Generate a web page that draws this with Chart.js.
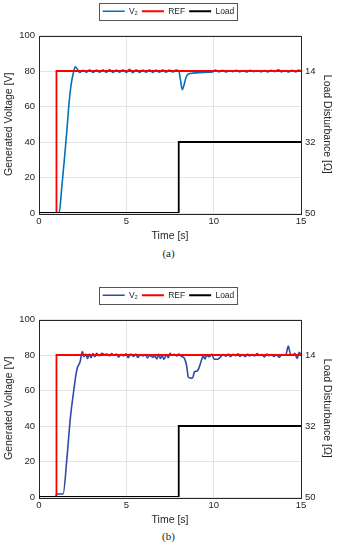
<!DOCTYPE html>
<html>
<head>
<meta charset="utf-8">
<script src="https://cdn.jsdelivr.net/npm/chart.js@4.4.0/dist/chart.umd.min.js"></script>
<style>
  body { margin: 0; background: #fff; width: 337px; height: 550px; position: relative; overflow: hidden; }
  .panel { position: absolute; left: 0; width: 337px; height: 245px; }
  .cap { position: absolute; left: 0; width: 337px; text-align: center; font: 11px "Liberation Serif", serif; color: #222; }
</style>
</head>
<body>
<div class="panel" style="top:0"><canvas id="chartA"></canvas></div>
<div class="cap" style="top:247px">(a)</div>
<div class="panel" style="top:284px"><canvas id="chartB"></canvas></div>
<div class="cap" style="top:530px">(b)</div>
<script>
// Panel (a): generated voltage V2
const timeA = [0, 1.15, 1.3, 1.45, 1.6, 1.72, 1.85, 1.97, 2.08, 2.2, 2.33, 2.52, 2.71, 2.9, 3.09, 3.28, 3.47, 3.66,
    3.85, 4.04, 4.23, 4.42, 4.61, 4.8, 4.99, 5.18, 5.37, 5.56, 5.75, 5.94, 6.13, 6.32, 6.51, 6.7, 6.89, 7.08,
    7.27, 7.46, 7.65, 7.84, 8.0, 8.1, 8.2, 8.3, 8.42, 8.55, 8.8, 9.2, 9.6, 9.95, 10.1, 10.3, 10.5, 10.7, 10.9,
    11.1, 11.3, 11.5, 11.7, 11.9, 12.1, 12.3, 12.5, 12.7, 12.9, 13.1, 13.3, 13.5, 13.7, 13.9, 14.1, 14.3, 14.5,
    14.7, 14.85, 15];
const voltA = [0, 0, 14, 30, 47, 62, 73, 79, 82.3, 81, 79.2, 80.4, 79.3, 80.7, 79.2, 80.6, 79.3, 80.7,
    79.2, 80.8, 79.2, 80.6, 79.3, 80.7, 79.2, 80.9, 79.1, 80.7, 79.2, 80.6, 79.3, 80.7, 79.2, 80.6, 79.3, 80.7,
    79.3, 80.6, 79.4, 80.5, 80, 75, 69.5, 72, 76.5, 78.3, 78.8, 79.1, 79.3, 79.5, 80.6, 79.5, 80.4, 79.4, 80.3,
    79.6, 80.4, 79.5, 80.3, 79.4, 80.4, 79.6, 80.3, 79.5, 80.2, 79.5, 80.4, 79.6, 80.7, 79.5, 80.3, 79.4, 80.4,
    79.5, 80.6, 80];

// Panel (b): generated voltage V2
const timeB = [0, 0.97, 1.0, 1.38, 1.6, 1.8, 1.99, 2.1, 2.2, 2.35, 2.48, 2.58, 2.68, 2.78, 2.88, 2.98, 3.08, 3.2, 3.3,
    3.45, 3.6, 3.75, 3.9, 4.05, 4.15, 4.3, 4.45, 4.55, 4.7, 4.85, 5.0, 5.1, 5.25, 5.4, 5.55, 5.65, 5.8, 5.95,
    6.1, 6.2, 6.35, 6.5, 6.65, 6.75, 6.85, 6.95, 7.05, 7.15, 7.3, 7.4, 7.5, 7.6, 7.75, 7.9, 8.0, 8.15, 8.3,
    8.45, 8.55, 8.7, 8.8, 8.9, 9.05, 9.15, 9.3, 9.4, 9.5, 9.6, 9.75, 9.9, 10.0, 10.15, 10.3, 10.45, 10.55,
    10.7, 10.85, 10.95, 11.1, 11.25, 11.4, 11.5, 11.65, 11.8, 11.95, 12.05, 12.2, 12.35, 12.5, 12.6, 12.75,
    12.9, 13.05, 13.15, 13.3, 13.45, 13.6, 13.75, 13.9, 14.05, 14.15, 14.27, 14.4, 14.55, 14.65, 14.77,
    14.9, 15];
const voltB = [0, 0, 1.7, 1.7, 22, 45, 60, 68, 73, 76, 82, 79, 80.5, 78, 80.5, 78.5, 80.8, 79, 81,
    79.6, 81, 80.2, 80.5, 79.5, 80.8, 79.8, 80.6, 78.8, 80.4, 79.5, 80.7, 78.5, 80.5, 79.2, 80.6, 78.6, 80.3, 79.5,
    80.2, 78.4, 79.8, 78.8, 79.3, 77.8, 80.5, 78, 79.8, 77.5, 80.2, 78.5, 81, 79.8, 80.4, 79.5, 80.5, 79.2, 78.5,
    74, 67.5, 67, 67.2, 70.5, 71, 72.5, 77, 79.5, 77.8, 79.8, 79, 80.5, 78, 77.6, 78, 79.5, 80.2,
    79.3, 80.5, 79, 80.4, 79.6, 80.7, 79.2, 80.3, 79, 80.6, 79.4, 80.3, 79.5, 80.8, 79.7, 80.2,
    78.9, 80.5, 79.6, 80.3, 79.2, 80.1, 78.7, 80.2, 80, 80.5, 85, 80.5, 80.2, 81, 78,
    81.5, 80];

// Reference step and load disturbance (same in both panels)
const refTime = [0, 1, 1, 15];
const refVolt = [0, 0, 80, 80];
const loadTime = [0, 8, 8, 15];
const loadOhm = [50, 50, 32, 32];
const loadTicks = [14, 32, 50];

const textColor = '#262626';
const baseFont = 'Liberation Sans, Arial, sans-serif';

function pts(xs, ys) {
    return xs.map((x, i) => ({ x: x, y: ys[i] }));
}

// box around plot area + border around legend; extra gap below legend
const framePlugin = {
    id: 'frame',
    beforeLayout(chart) {
        const lg = chart.legend;
        if (lg && !lg._gapPatched) {
            const fit = lg.fit.bind(lg);
            lg.fit = function () { fit(); this.height += 10; };
            lg._gapPatched = true;
        }
    },
    beforeDatasetsDraw(chart) {
        const a = chart.chartArea;
        const ctx = chart.ctx;
        ctx.save();
        ctx.strokeStyle = textColor;
        ctx.lineWidth = 1;
        ctx.strokeRect(Math.round(a.left) + 0.5, Math.round(a.top) + 0.5,
            Math.round(a.right - a.left), Math.round(a.bottom - a.top));
        ctx.restore();
    },
    afterDraw(chart) {
        const boxes = chart.legend.legendHitBoxes;
        if (!boxes || !boxes.length) return;
        const first = boxes[0], last = boxes[boxes.length - 1];
        const ctx = chart.ctx;
        ctx.save();
        ctx.strokeStyle = '#555';
        ctx.lineWidth = 1;
        const l = Math.round(first.left - 4) + 0.5;
        const t = Math.round(first.top - 4) + 0.5;
        const r = Math.round(last.left + last.width + 3) + 0.5;
        const b = Math.round(first.top + first.height + 4) + 0.5;
        ctx.strokeRect(l, t, r - l, b - t);
        ctx.restore();
    }
};

function makeChart(id, time, volt, v2Color) {
    const ctx = document.getElementById(id).getContext('2d');
    return new Chart(ctx, {
        type: 'line',
        data: {
            datasets: [{
                label: 'V\u2082',
                data: pts(time, volt),
                borderColor: v2Color,
                borderWidth: 1.6,
                cubicInterpolationMode: 'monotone',
                pointRadius: 0,
                yAxisID: 'y',
                order: 3
            }, {
                label: 'REF',
                data: pts(refTime, refVolt),
                borderColor: '#ff0000',
                borderWidth: 1.8,
                tension: 0,
                pointRadius: 0,
                yAxisID: 'y',
                order: 2
            }, {
                label: 'Load',
                data: pts(loadTime, loadOhm),
                borderColor: '#000000',
                borderWidth: 1.8,
                tension: 0,
                pointRadius: 0,
                yAxisID: 'y2',
                order: 1
            }]
        },
        options: {
            responsive: true,
            maintainAspectRatio: false,
            animation: false,
            layout: { padding: { top: 3, left: 0, right: 0, bottom: 0 } },
            scales: {
                x: {
                    type: 'linear',
                    min: 0,
                    max: 15,
                    afterFit: s => { s.height = 32; },
                    ticks: { stepSize: 5, padding: 3, color: textColor, font: { family: baseFont, size: 9.5 } },
                    grid: { color: '#e4e4e4', drawTicks: false },
                    border: { display: false },
                    title: { display: true, text: 'Time [s]', color: textColor, padding: { top: 0, bottom: 3 },
                        font: { family: baseFont, size: 10.5 } }
                },
                y: {
                    position: 'left',
                    min: 0,
                    max: 100,
                    afterFit: s => { s.width = 39; },
                    ticks: { stepSize: 20, padding: 4, color: textColor, font: { family: baseFont, size: 9.5 } },
                    grid: { color: '#e4e4e4', drawTicks: false },
                    border: { display: false },
                    title: { display: true, text: 'Generated Voltage [V]', color: textColor, padding: { top: 3, bottom: 0 },
                        font: { family: baseFont, size: 10.5 } }
                },
                y2: {
                    position: 'right',
                    reverse: true,
                    min: 5,
                    max: 50,
                    afterFit: s => { s.width = 36; },
                    afterBuildTicks: s => { s.ticks = loadTicks.map(v => ({ value: v })); },
                    ticks: { padding: 4, color: textColor, font: { family: baseFont, size: 9.5 } },
                    grid: { display: false, drawTicks: false },
                    border: { display: false },
                    title: { display: true, text: 'Load Disturbance [\u03a9]', color: textColor, padding: { top: 4, bottom: 0 },
                        font: { family: baseFont, size: 10.5 } }
                }
            },
            plugins: {
                legend: {
                    position: 'top',
                    labels: {
                        usePointStyle: true,
                        pointStyle: 'line',
                        pointStyleWidth: 22,
                        padding: 4,
                        color: textColor,
                        font: { family: baseFont, size: 8.5 },
                        sort: (a, b) => a.datasetIndex - b.datasetIndex
                    }
                },
                tooltip: { enabled: false }
            }
        },
        plugins: [framePlugin]
    });
}

makeChart('chartA', timeA, voltA, '#0072bd');
makeChart('chartB', timeB, voltB, '#2b4ca8');
</script>
</body>
</html>
